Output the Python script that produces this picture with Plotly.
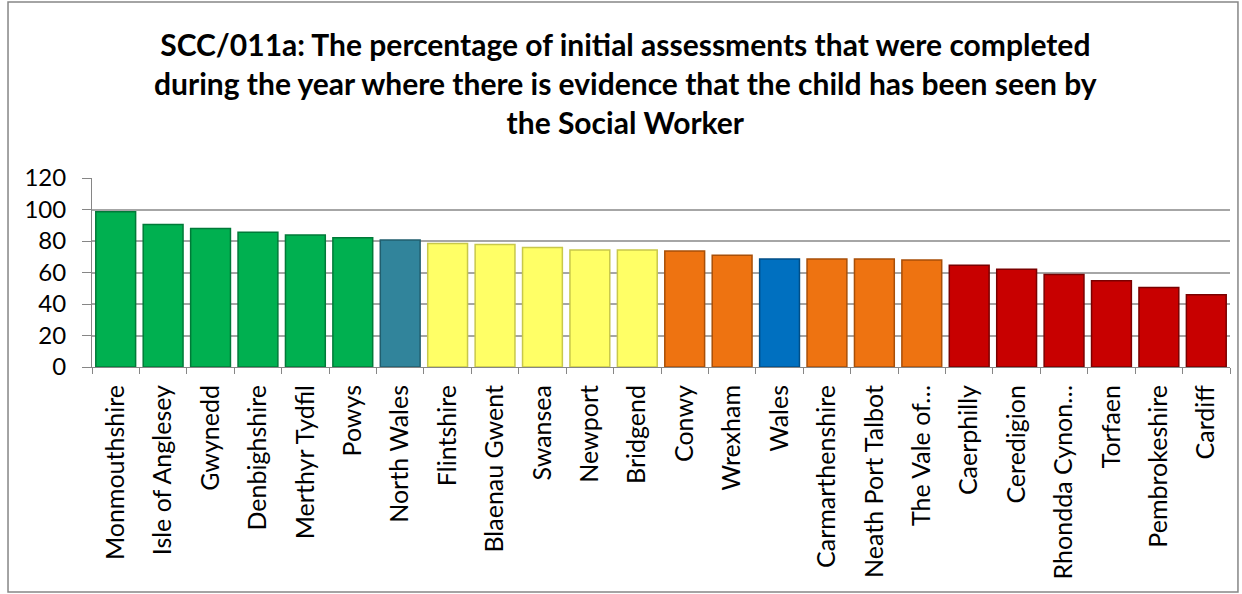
import plotly.graph_objects as go

# Authority names as shown on the axis (truncated ones kept as in the chart)
authorities = ["Monmouthshire", "Isle of Anglesey", "Gwynedd", "Denbighshire", "Merthyr Tydfil",
               "Powys", "North Wales", "Flintshire", "Blaenau Gwent", "Swansea", "Newport",
               "Bridgend", "Conwy", "Wrexham", "Wales", "Carmarthenshire", "Neath Port Talbot",
               "The Vale of…", "Caerphilly", "Ceredigion", "Rhondda Cynon…", "Torfaen",
               "Pembrokeshire", "Cardiff"]
percent = [98.5, 90.5, 88.0, 85.5, 83.8, 82.1, 80.6, 78.4, 77.7, 75.8, 74.3, 74.3,
           73.7, 70.9, 68.6, 68.6, 68.6, 68.0, 64.6, 62.1, 58.7, 54.7, 50.5, 45.9]
band = ["green"] * 6 + ["teal"] + ["yellow"] * 5 + ["orange"] * 2 + ["blue"] + \
       ["orange"] * 3 + ["red"] * 6

fill = {"green": "#00B050", "teal": "#31849B", "yellow": "#FFFF66",
        "orange": "#EE7311", "blue": "#0070C0", "red": "#C80000"}
edge = {"green": "#007A38", "teal": "#215E6E", "yellow": "#C8C84A",
        "orange": "#A84F08", "blue": "#004E87", "red": "#7A0000"}

fig = go.Figure()
fig.add_trace(go.Bar(
    x=authorities, y=percent,
    marker=dict(color=[fill[b] for b in band],
                line=dict(color=[edge[b] for b in band], width=1.5)),
    width=0.84,
))

title = ("<b>SCC/011a: The percentage of initial assessments that were completed<br>"
         "during the year where there is evidence that the child has been seen by<br>"
         "the Social Worker</b>")

fig.add_annotation(text=title, xref="paper", yref="paper", x=0.469, y=1.815,
                   xanchor="center", yanchor="top", showarrow=False, align="center",
                   font=dict(size=30, family="Lato, Open Sans, sans-serif", color="#000000"))

fig.update_layout(
    width=1242, height=594,
    margin=dict(l=92, r=12, t=178, b=227),
    paper_bgcolor="white", plot_bgcolor="white",
    font=dict(family="Lato, Open Sans, sans-serif", color="#000000"),
    showlegend=False,
    xaxis=dict(tickangle=-90, tickfont=dict(size=25), showline=True, linecolor="#868686",
               ticks="outside", tickson="boundaries", ticklen=6, tickcolor="#868686",
               ticklabelstandoff=7, automargin=False),
    yaxis=dict(range=[0, 120], dtick=20, tickfont=dict(size=24), showgrid=True,
               gridcolor="#A6A6A6", gridwidth=1.5, showline=True, linecolor="#868686",
               ticks="outside", ticklen=9, tickcolor="#868686", zeroline=False,
               ticklabelstandoff=11, automargin=False),
    shapes=[dict(type="rect", xref="paper", yref="paper",
                 x0=-0.0738, x1=1.007, y0=-1.19, y1=1.931,
                 line=dict(color="#868686", width=1.5))],
)

fig.write_html("out.html", config={"displayModeBar": False},
               post_script="document.body.style.margin='0';")
